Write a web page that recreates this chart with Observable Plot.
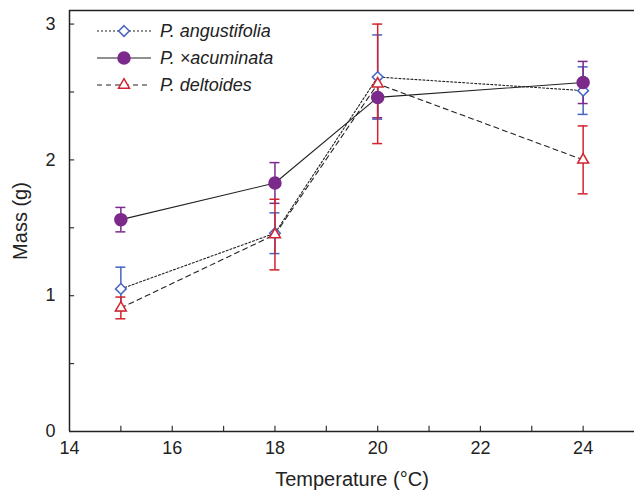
<!DOCTYPE html>
<html><head><meta charset="utf-8">
<script src="https://cdn.jsdelivr.net/npm/d3@7"></script>
<script src="https://cdn.jsdelivr.net/npm/@observablehq/plot@0.6"></script>
<style>
body{margin:0;background:#fff;}
#chart{width:634px;height:492px;}
#chart svg text{font-size:18px;fill:#222;}
#chart svg g[aria-label="x-axis label"] text, #chart svg g[aria-label="y-axis label"] text{font-size:20px;}
#chart svg g.legend text{font-size:18px;}
</style>
</head><body><div id="chart"></div>
<script>
const temps = [15, 18, 20, 24];
const seriesNames = ["P. angustifolia", "P. ×acuminata", "P. deltoides"];
const angMean = [1.05, 1.46, 2.61, 2.51];
const angErr  = [0.16, 0.15, 0.31, 0.175];
const acuMean = [1.56, 1.83, 2.46, 2.57];
const acuErr  = [0.09, 0.15, 0.15, 0.155];
const delMean = [0.91, 1.45, 2.56, 2.00];
const delErr  = [0.08, 0.26, 0.44, 0.25];
const xTickLabels = [14, 16, 18, 20, 22, 24];
const xTickMarks = [15, 16, 17, 18, 19, 20, 21, 22, 23, 24];
const yTickLabels = [0, 1, 2, 3];
const yTickMarks = [0.5, 1, 1.5, 2, 2.5, 3];
const xDomain = [14, 25];
const yDomain = [0, 3.1];

const styles = {
  "P. angustifolia": {color: "#4565c0", symbol: "diamond2", fill: "white", r: 4.8, dash: "2,2"},
  "P. ×acuminata":  {color: "#7b2a8c", symbol: "circle", fill: "#7b2a8c", r: 6, dash: null},
  "P. deltoides":   {color: "#d2232e", symbol: "triangle2", fill: "white", r: 5.2, dash: "5,4"}
};
const means = [angMean, acuMean, delMean];
const errs = [angErr, acuErr, delErr];
const data = [];
seriesNames.forEach((s, i) => temps.forEach((t, j) => data.push({
  series: s, x: t, y: means[i][j], lo: means[i][j] - errs[i][j], hi: means[i][j] + errs[i][j]
})));

const marks = [
  Plot.axisX(xTickLabels, {tickSize: 0, tickPadding: 10, tickFormat: d => String(d), label: "Temperature (°C)", labelAnchor: "center", labelOffset: 54, labelArrow: false}),
  Plot.axisY(yTickLabels, {tickSize: 0, tickPadding: 14, tickFormat: d => String(d), label: "Mass (g)", labelAnchor: "center", labelOffset: 57, labelArrow: false}),
  Plot.ruleX(xTickMarks, {x: d => d, y1: yDomain[0], y2: yDomain[0] + 0.038, stroke: "#333", strokeWidth: 1.2}),
  Plot.ruleY(yTickMarks, {y: d => d, x1: xDomain[0], x2: xDomain[0] + 0.1, stroke: "#333", strokeWidth: 1.2}),
  Plot.ruleX([xDomain[0]], {stroke: "#222", strokeWidth: 1.5}),
  Plot.ruleY([yDomain[0]], {stroke: "#222", strokeWidth: 1.5}),
  Plot.ruleY([yDomain[1]], {stroke: "#222", strokeWidth: 1.5})
];
for (const s of seriesNames) {
  const d = data.filter(e => e.series === s);
  const st = styles[s];
  marks.push(Plot.ruleX(d, {x: "x", y1: "lo", y2: "hi", stroke: st.color, strokeWidth: 1.5}));
  marks.push(Plot.ruleY(d, {y: "hi", x1: "x", x2: "x", insetLeft: -5, insetRight: -5, stroke: st.color, strokeWidth: 1.5}));
  marks.push(Plot.ruleY(d, {y: "lo", x1: "x", x2: "x", insetLeft: -5, insetRight: -5, stroke: st.color, strokeWidth: 1.5}));
}
for (const s of seriesNames) {
  const d = data.filter(e => e.series === s);
  const st = styles[s];
  marks.push(Plot.line(d, {x: "x", y: "y", stroke: "#222", strokeWidth: 1.1, strokeDasharray: st.dash}));
}
for (const s of seriesNames) {
  const d = data.filter(e => e.series === s);
  const st = styles[s];
  marks.push(Plot.dot(d, {x: "x", y: "y", symbol: () => st.symbol, r: st.r, fill: st.fill, stroke: st.color, strokeWidth: 1.5}));
}

const plot = Plot.plot({
  width: 634, height: 492,
  marginLeft: 69, marginRight: 0, marginTop: 10, marginBottom: 61,
  x: {domain: xDomain},
  y: {domain: yDomain},
  symbol: {type: "identity"},
  style: {fontFamily: "'Liberation Sans', Arial, sans-serif", fontSize: "18px", color: "#222", background: "white"},
  marks
});
document.getElementById("chart").appendChild(plot);

// legend inside the plot area
const svg = d3.select(plot);
const lg = svg.append("g").attr("class", "legend").attr("font-family", "'Liberation Sans', Arial, sans-serif").attr("text-anchor", "start");
seriesNames.forEach((s, i) => {
  const st = styles[s];
  const y = 31 + i * 27;
  const g = lg.append("g").attr("transform", `translate(0,${y})`);
  g.append("line").attr("x1", 97).attr("x2", 151).attr("y1", 0).attr("y2", 0)
    .attr("stroke", "#222").attr("stroke-width", 1.1).attr("stroke-dasharray", st.dash);
  const sym = st.symbol === "circle" ? d3.symbolCircle : st.symbol === "diamond2" ? d3.symbolDiamond2 : d3.symbolTriangle2;
  g.append("path").attr("transform", "translate(124,0)")
    .attr("d", d3.symbol(sym, Math.PI * st.r * st.r)())
    .attr("fill", st.fill).attr("stroke", st.color).attr("stroke-width", 1.5);
  g.append("text").attr("x", 160).attr("y", 0).attr("dy", "0.35em").attr("text-anchor", "start")
    .attr("font-style", "italic").text(s);
});
</script></body></html>
